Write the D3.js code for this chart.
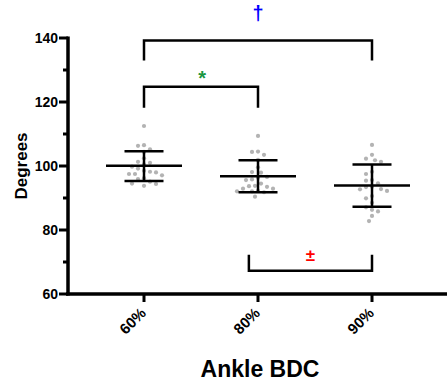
<!DOCTYPE html>
<html>
<head>
<meta charset="utf-8">
<script src="https://cdn.jsdelivr.net/npm/d3@7"></script>
<style>
  body { margin: 0; background: #fff; }
  text { font-family: "Liberation Sans", Arial, sans-serif; font-weight: bold; }
</style>
</head>
<body>
<svg id="chart" width="447" height="385"></svg>
<script>
// categories and data
var categories = ['60%', '80%', '90%'];

var values60 = [112.5, 106.3, 106.5, 105.2, 104.4, 102.4, 101.3, 101.0, 100.5, 99.8, 99.2,
                98.5, 98.0, 98.2, 97.5, 97.5, 97.1, 96.2, 95.9, 95.1, 94.5, 93.8, 94.4];
var values80 = [109.4, 104.5, 104.4, 103.5, 101.9, 99.6, 98.1, 97.9, 96.3, 95.6, 95.8,
                96.6, 94.5, 93.7, 92.9, 93.5, 93.8, 92.9, 92.2, 92.1, 91.8, 92.1, 90.4];
var values90 = [106.6, 103.5, 101.8, 102.3, 101.3, 98.2, 97.5, 95.4, 95.6, 94.6, 93.4,
                93.5, 92.7, 92.2, 92.8, 90.6, 89.9, 88.5, 86.3, 85.8, 87.1, 84.4, 82.8];

// mean and SD bars as shown
var means = [100.1, 96.8, 93.9];
var sdUpper = [104.6, 101.8, 100.5];
var sdLower = [95.3, 91.8, 87.3];

var yTicks = [60, 80, 100, 120, 140];
var yMinorTicks = [70, 90, 110, 130];

// significance brackets: from/to category index, top value, drop value
var brackets = [
    { from: 0, to: 2, top: 139.2, end: 133.0, sign: '\u2020', color: '#0000ff', labelY: 145.6, labelX: 1, size: 20 },
    { from: 0, to: 1, top: 124.8, end: 118.2, sign: '*', color: '#1a9641', labelY: 125.3, labelX: 0.51, size: 20 },
    { from: 0.92, to: 2, top: 67.3, end: 72.3, sign: '\u00b1', color: '#ff0000', labelY: 70.4, labelX: 1.46, size: 17 }
];

var svg = d3.select('#chart');

var y = d3.scaleLinear().domain([60, 140]).range([294, 38]);
var x = d3.scaleLinear().domain([0, 2]).range([144, 372]);

// y axis
var yAxis = svg.append('g').attr('transform', 'translate(68,0)');
yAxis.append('line')
     .attr('x1', 0).attr('x2', 0)
     .attr('y1', y(140) - 1.5).attr('y2', y(60) + 1.5)
     .attr('stroke', '#000').attr('stroke-width', 3.5);
yAxis.selectAll('.major')
     .data(yTicks)
     .enter()
     .append('line')
     .attr('x1', -9).attr('x2', 0)
     .attr('y1', function (d) { return y(d); })
     .attr('y2', function (d) { return y(d); })
     .attr('stroke', '#000').attr('stroke-width', 3);
yAxis.selectAll('.minor')
     .data(yMinorTicks)
     .enter()
     .append('line')
     .attr('x1', -5).attr('x2', 0)
     .attr('y1', function (d) { return y(d); })
     .attr('y2', function (d) { return y(d); })
     .attr('stroke', '#000').attr('stroke-width', 3);
yAxis.selectAll('text')
     .data(yTicks)
     .enter()
     .append('text')
     .attr('x', -10)
     .attr('y', function (d) { return y(d); })
     .attr('dy', '0.36em')
     .attr('text-anchor', 'end')
     .attr('font-size', 14)
     .text(function (d) { return d; });

svg.append('text')
   .attr('transform', 'translate(27,166) rotate(-90)')
   .attr('text-anchor', 'middle')
   .attr('font-size', 17)
   .text('Degrees');

// x axis
var xAxis = svg.append('g').attr('transform', 'translate(0,294)');
xAxis.append('line')
     .attr('x1', 66).attr('x2', 447)
     .attr('y1', 0).attr('y2', 0)
     .attr('stroke', '#000').attr('stroke-width', 3.5);
xAxis.selectAll('.tick')
     .data(categories)
     .enter()
     .append('line')
     .attr('x1', function (d, i) { return x(i); })
     .attr('x2', function (d, i) { return x(i); })
     .attr('y1', 0).attr('y2', 8)
     .attr('stroke', '#000').attr('stroke-width', 3);
xAxis.selectAll('text')
     .data(categories)
     .enter()
     .append('text')
     .attr('transform', function (d, i) { return 'translate(' + (x(i) + 3) + ',20) rotate(-45)'; })
     .attr('text-anchor', 'end')
     .attr('font-size', 15)
     .text(function (d) { return d; });

svg.append('text')
   .attr('x', 260).attr('y', 377)
   .attr('text-anchor', 'middle')
   .attr('font-size', 23)
   .text('Ankle BDC');

// simple beeswarm: place each point as close to center as possible
function swarm(vals, cx) {
    var placed = [],
        minDist = 5.8,
        step = 3;
    vals.slice().sort(d3.descending).forEach(function (v) {
        var py = y(v);
        for (var k = 0; k < 40; k++) {
            var off = (k % 2 === 0 ? 1 : -1) * Math.ceil(k / 2) * step,
                px = cx + off,
                ok = placed.every(function (p) {
                    return Math.hypot(p.x - px, p.y - py) >= minDist;
                });
            if (ok) {
                placed.push({ x: px, y: py });
                break;
            }
        }
    });
    return placed;
}

var groups = [values60, values80, values90];
groups.forEach(function (vals, i) {
    svg.append('g')
       .selectAll('circle')
       .data(swarm(vals, x(i)))
       .enter()
       .append('circle')
       .attr('cx', function (d) { return d.x; })
       .attr('cy', function (d) { return d.y; })
       .attr('r', 2.1)
       .attr('fill', '#b3b3b3');
});

// mean and SD lines
var bars = svg.append('g').attr('stroke', '#000').attr('stroke-width', 2.5);
categories.forEach(function (c, i) {
    var cx = x(i);
    bars.append('line')
        .attr('x1', cx - 38).attr('x2', cx + 38)
        .attr('y1', y(means[i])).attr('y2', y(means[i]));
    bars.append('line')
        .attr('x1', cx).attr('x2', cx)
        .attr('y1', y(sdUpper[i])).attr('y2', y(sdLower[i]));
    bars.append('line')
        .attr('x1', cx - 19.5).attr('x2', cx + 19.5)
        .attr('y1', y(sdUpper[i])).attr('y2', y(sdUpper[i]));
    bars.append('line')
        .attr('x1', cx - 19.5).attr('x2', cx + 19.5)
        .attr('y1', y(sdLower[i])).attr('y2', y(sdLower[i]));
});

// significance brackets
brackets.forEach(function (b) {
    var x1 = x(b.from),
        x2 = x(b.to);
    svg.append('path')
       .attr('d', 'M' + x1 + ',' + y(b.end) + 'V' + y(b.top) + 'H' + x2 + 'V' + y(b.end))
       .attr('fill', 'none')
       .attr('stroke', '#000')
       .attr('stroke-width', 2.5);
    svg.append('text')
       .attr('x', x(b.labelX))
       .attr('y', y(b.labelY))
       .attr('text-anchor', 'middle')
       .attr('font-size', b.size)
       .attr('fill', b.color)
       .text(b.sign);
});
</script>
</body>
</html>
